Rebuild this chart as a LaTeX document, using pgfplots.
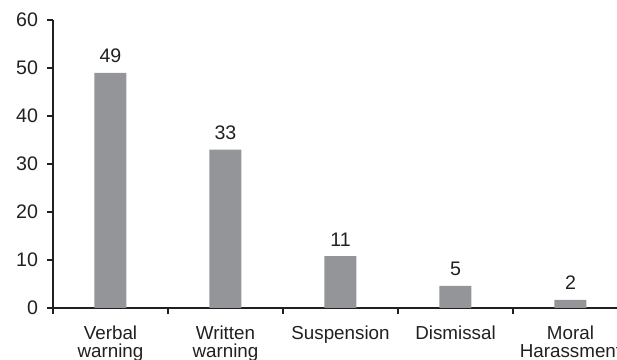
\documentclass[border=0pt]{standalone}
\usepackage{pgfplots}
\pgfplotsset{compat=1.18}
\usepackage{fontspec}
\setmainfont{Liberation Sans}
\definecolor{bargray}{HTML}{939598}
\definecolor{axgray}{HTML}{231F20}
\begin{document}
\begin{tikzpicture}
\begin{axis}[
  scale only axis,
  width=287.5pt, height=144pt,
  xmin=-0.5, xmax=4.5,
  ymin=0, ymax=60,
  axis x line=bottom, axis y line=left,
  axis line style={-, axgray, line width=0.6pt},
  tick style={axgray, line width=0.6pt},
  tick align=outside,
  major tick length=3pt,
  ytick={0,10,...,60},
  xtick={-0.5,0.5,...,4.5},
  x tick label as interval,
  xticklabels={{Verbal\\warning},{Written\\warning},{Suspension},{Dismissal},{Moral\\Harassment}},
  xticklabel style={align=center, font=\fontsize{9.4pt}{8.8pt}\selectfont, text=axgray, yshift=-2.5pt},
  yticklabel style={font=\fontsize{9.8pt}{11pt}\selectfont, text=axgray, xshift=-1pt},
  /pgf/number format/assume math mode=true,
  ybar, bar width=16pt,
  nodes near coords={\pgfmathprintnumber[fixed,precision=0]{\pgfplotspointmeta}},
  nodes near coords style={font=\fontsize{9.8pt}{11pt}\selectfont, text=axgray, anchor=south, yshift=1.5pt},
  clip=false,
]
\addplot[fill=bargray, draw=none] coordinates {(0,49) (1,33) (2,10.8) (3,4.6) (4,1.7)};
\coordinate (bl) at (rel axis cs:0,0);
\coordinate (tl) at (rel axis cs:0,1);
\end{axis}
\pgfresetboundingbox
\useasboundingbox ([xshift=-26.5pt,yshift=-26pt]bl) rectangle ([xshift=282pt,yshift=10pt]tl);
\end{tikzpicture}
\end{document}
